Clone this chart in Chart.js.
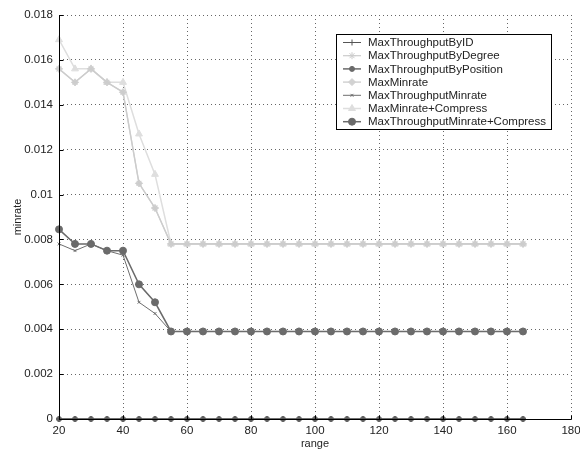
<!DOCTYPE html>
<html><head><meta charset="utf-8">
<script src="https://cdn.jsdelivr.net/npm/chart.js@4/dist/chart.umd.min.js"></script>
<style>html,body{margin:0;padding:0;background:#fff}#wrap{width:580px;height:451px}</style>
</head><body><div id="wrap"><canvas id="c" width="580" height="451"></canvas></div>
<script>
const ranges = [20,25,30,35,40,45,50,55,60,65,70,75,80,85,90,95,100,105,110,115,120,125,130,135,140,145,150,155,160,165];
const maxThroughputByID = [0,0,0,0,0,0,0,0,0,0,0,0,0,0,0,0,0,0,0,0,0,0,0,0,0,0,0,0,0,0];
const maxThroughputByDegree = [0.0156,0.0150,0.0156,0.0150,0.01456,0.0105,0.0094,0.0078,0.0078,0.0078,0.0078,0.0078,0.0078,0.0078,0.0078,0.0078,0.0078,0.0078,0.0078,0.0078,0.0078,0.0078,0.0078,0.0078,0.0078,0.0078,0.0078,0.0078,0.0078,0.0078];
const maxThroughputByPosition = [0,0,0,0,0,0,0,0,0,0,0,0,0,0,0,0,0,0,0,0,0,0,0,0,0,0,0,0,0,0];
const maxMinrate = [0.0156,0.0150,0.0156,0.0150,0.01456,0.0105,0.0094,0.0078,0.0078,0.0078,0.0078,0.0078,0.0078,0.0078,0.0078,0.0078,0.0078,0.0078,0.0078,0.0078,0.0078,0.0078,0.0078,0.0078,0.0078,0.0078,0.0078,0.0078,0.0078,0.0078];
const maxThroughputMinrate = [0.0078,0.0075,0.0078,0.0075,0.0073,0.0052,0.0047,0.0039,0.0039,0.0039,0.0039,0.0039,0.0039,0.0039,0.0039,0.0039,0.0039,0.0039,0.0039,0.0039,0.0039,0.0039,0.0039,0.0039,0.0039,0.0039,0.0039,0.0039,0.0039,0.0039];
const maxMinrateCompress = [0.0169,0.0156,0.0156,0.0150,0.0150,0.0127,0.0109,0.0078,0.0078,0.0078,0.0078,0.0078,0.0078,0.0078,0.0078,0.0078,0.0078,0.0078,0.0078,0.0078,0.0078,0.0078,0.0078,0.0078,0.0078,0.0078,0.0078,0.0078,0.0078,0.0078];
const maxThroughputMinrateCompress = [0.00845,0.0078,0.0078,0.0075,0.0075,0.0060,0.0052,0.0039,0.0039,0.0039,0.0039,0.0039,0.0039,0.0039,0.0039,0.0039,0.0039,0.0039,0.0039,0.0039,0.0039,0.0039,0.0039,0.0039,0.0039,0.0039,0.0039,0.0039,0.0039,0.0039];
const seriesNames = ['MaxThroughputByID','MaxThroughputByDegree','MaxThroughputByPosition','MaxMinrate','MaxThroughputMinrate','MaxMinrate+Compress','MaxThroughputMinrate+Compress'];
const yTicks = [0,0.002,0.004,0.006,0.008,0.01,0.012,0.014,0.016,0.018];
const xTicks = [20,40,60,80,100,120,140,160,180];

const styles = [
  {color:'#555555', style:'cross', r:3, w:1},
  {color:'#cccccc', style:'star', r:3.5, w:1.2},
  {color:'#6a6a6a', style:'circle', r:2.5, w:1.5},
  {color:'#d2d2d2', style:'rectRot', r:3.5, w:1.5},
  {color:'#6e6e6e', style:'crossRot', r:2, w:1},
  {color:'#dedede', style:'triangle', r:4, w:1.5},
  {color:'#6a6a6a', style:'circle', r:3.5, w:1.5}
];
const seriesData = [maxThroughputByID, maxThroughputByDegree, maxThroughputByPosition, maxMinrate, maxThroughputMinrate, maxMinrateCompress, maxThroughputMinrateCompress];

const datasets = seriesNames.map((n,i)=>({
  label:n,
  data: ranges.map((x,j)=>({x:x,y:seriesData[i][j]})),
  borderColor: styles[i].color,
  backgroundColor: styles[i].color,
  pointBorderColor: styles[i].color,
  pointBackgroundColor: styles[i].color,
  pointStyle: styles[i].style,
  pointRadius: styles[i].r,
  pointBorderWidth: 1,
  borderWidth: styles[i].w,
  tension: 0,
  clip: false
}));

const decor = {
  id:'decor',
  afterDatasetsDraw(chart){
    const ctx = chart.ctx, a = chart.chartArea, xs = chart.scales.x, ys = chart.scales.y;
    ctx.save();
    ctx.setLineDash([]);
    ctx.strokeStyle = '#000'; ctx.lineWidth = 1;
    ctx.beginPath();
    const L = Math.round(a.left)+0.5, B = Math.round(a.bottom)+0.5;
    ctx.moveTo(L, Math.round(a.top)); ctx.lineTo(L, B); ctx.lineTo(Math.round(a.right)+0.5, B);
    yTicks.forEach(v=>{ const y = Math.round(ys.getPixelForValue(v))+0.5; ctx.moveTo(L, y); ctx.lineTo(L+4, y); });
    xTicks.forEach(v=>{ const x = Math.round(xs.getPixelForValue(v))+0.5; ctx.moveTo(x, B); ctx.lineTo(x, B-4); });
    ctx.stroke();
    // legend
    const bx = 336.5, by = 34.5, bw = 215, bh = 95;
    ctx.fillStyle = '#fff'; ctx.fillRect(bx, by, bw, bh);
    ctx.strokeStyle = '#000'; ctx.lineWidth = 1; ctx.strokeRect(bx, by, bw, bh);
    ctx.font = '11.5px "Liberation Sans", Arial, sans-serif';
    ctx.textBaseline = 'middle'; ctx.textAlign = 'left';
    chart.data.datasets.forEach((d,i)=>{
      const y = 42.5 + i*13.2;
      ctx.strokeStyle = d.borderColor; ctx.lineWidth = d.borderWidth;
      ctx.beginPath(); ctx.moveTo(343, y); ctx.lineTo(361, y); ctx.stroke();
      ctx.fillStyle = d.pointBackgroundColor; ctx.strokeStyle = d.pointBorderColor; ctx.lineWidth = 1;
      Chart.helpers.drawPoint(ctx, {pointStyle:d.pointStyle, radius:d.pointRadius, rotation:0, borderWidth:1}, 352, y);
      ctx.fillStyle = '#222';
      ctx.fillText(d.label, 368, y+0.5);
    });
    ctx.restore();
  }
};

const fontFam = '"Liberation Sans", Arial, sans-serif';
new Chart(document.getElementById('c'), {
  type:'line',
  data:{datasets},
  options:{
    responsive:false, animation:false, devicePixelRatio:1,
    layout:{padding:{left:11,right:9,top:15,bottom:0}},
    plugins:{legend:{display:false}, tooltip:{enabled:false}},
    scales:{
      x:{
        type:'linear', min:20, max:180,
        afterBuildTicks(s){ s.ticks = xTicks.map(v=>({value:v})); },
        afterFit(s){ s.height = 32; s.paddingLeft = 0; s.paddingRight = 0; },
        grid:{color:'#666', lineWidth:1, drawTicks:false, tickLength:0},
        border:{display:false, dash:[1,3]},
        ticks:{color:'#222', padding:5, maxRotation:0, font:{family:fontFam, size:11.5}},
        title:{display:true, text:'range', color:'#222', padding:{top:0,bottom:0}, font:{family:fontFam, size:11}}
      },
      y:{
        min:0, max:0.018,
        afterBuildTicks(s){ s.ticks = yTicks.map(v=>({value:v})); },
        afterFit(s){ s.width = 48; s.paddingTop = 0; s.paddingBottom = 0; },
        grid:{color:'#666', lineWidth:1, drawTicks:false, tickLength:0},
        border:{display:false, dash:[1,3]},
        ticks:{color:'#222', padding:6, callback:v=>String(Number(v.toFixed(3))), font:{family:fontFam, size:11.5}},
        title:{display:true, text:'minrate', color:'#222', padding:{top:0,bottom:0}, font:{family:fontFam, size:11}}
      }
    }
  },
  plugins:[decor]
});
</script>
</body></html>
